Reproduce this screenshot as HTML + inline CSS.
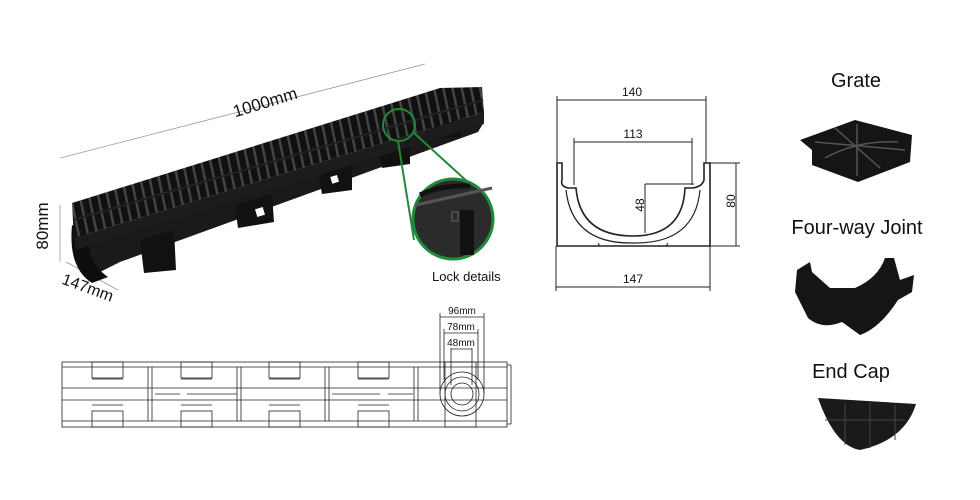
<!DOCTYPE html>
<html><head><meta charset="utf-8"><style>
html,body{margin:0;padding:0;background:#fff;}
svg{display:block;}
text{font-family:"Liberation Sans",sans-serif;}
</style></head><body>
<svg width="980" height="500" viewBox="0 0 980 500" xmlns="http://www.w3.org/2000/svg">
<defs>
<pattern id="slots" patternUnits="userSpaceOnUse" width="9" height="9" patternTransform="rotate(-12)">
<rect width="9" height="9" fill="#111"/><rect x="0" y="0" width="2.5" height="9" fill="#444"/>
</pattern>
</defs>
<line x1="60" y1="158" x2="425" y2="64" stroke="#999" stroke-width="0.8"/>
<text x="265" y="108" font-size="17" fill="#111" transform="rotate(-17 265 102)" text-anchor="middle">1000mm</text>
<line x1="60" y1="205" x2="60" y2="262" stroke="#999" stroke-width="0.8"/>
<text x="52" y="234" font-size="17" fill="#111" transform="rotate(-90 46 232)" text-anchor="middle">80mm</text>
<line x1="66" y1="262" x2="118" y2="290" stroke="#999" stroke-width="0.8"/>
<text x="88" y="293" font-size="16" fill="#111" transform="rotate(20 88 287)" text-anchor="middle">147mm</text>
<!-- channel body -->
<polygon points="76,248 484,122 478,132 120,262 92,276 78,268" fill="#1a1a1a"/>
<path d="M72,225 Q68,268 92,283 L108,277 Q86,262 88,232 Z" fill="#0d0d0d"/>
<!-- feet -->
<polygon points="140,240 174,230 176,270 144,273" fill="#111"/>
<polygon points="235,205 272,194 274,222 238,228" fill="#111"/>
<polygon points="318,172 352,162 352,190 322,194" fill="#111"/>
<polygon points="378,148 410,140 410,164 382,168" fill="#111"/>
<polygon points="430,124 462,115 462,136 432,140" fill="#111"/>
<rect x="256" y="208" width="8" height="8" fill="#fff" transform="rotate(-17 260 212)"/>
<rect x="331" y="176" width="7" height="7" fill="#fff" transform="rotate(-17 334 179)"/>
<!-- grate -->
<polygon points="72,203 440,88 482,87 484,112 74,238" fill="url(#slots)"/>
<line x1="73" y1="220" x2="483" y2="100" stroke="#222" stroke-width="2"/>
<polygon points="74,238 484,112 484,124 76,250" fill="#1c1c1c"/>
<!-- lock details -->
<circle cx="399" cy="125" r="16" fill="none" stroke="#1f8a3a" stroke-width="2"/>
<line x1="398" y1="141" x2="414" y2="240" stroke="#1f8a3a" stroke-width="2"/>
<line x1="414" y1="133" x2="482" y2="195" stroke="#1f8a3a" stroke-width="2"/>
<circle cx="453" cy="219" r="40" fill="#2b2b2b" stroke="#1f8a3a" stroke-width="3"/>
<path d="M416,205 L492,188" stroke="#555" stroke-width="3"/>
<path d="M420,195 Q440,185 470,186" stroke="#111" stroke-width="5" fill="none"/>
<rect x="460" y="210" width="14" height="45" fill="#111"/>
<rect x="452" y="212" width="6" height="9" fill="none" stroke="#666" stroke-width="1"/>
<text x="432" y="281" font-size="13" fill="#111">Lock details</text>
<!-- cross section -->
<g stroke="#222" stroke-width="1" fill="none">
<line x1="557" y1="96" x2="557" y2="163"/><line x1="706" y1="96" x2="706" y2="163"/>
<line x1="557" y1="100" x2="706" y2="100"/>
<line x1="574" y1="138" x2="574" y2="185"/><line x1="692" y1="138" x2="692" y2="185"/>
<line x1="574" y1="142" x2="692" y2="142"/>
<line x1="645" y1="184" x2="694" y2="184"/><line x1="645" y1="184" x2="645" y2="233"/>
<line x1="710" y1="163" x2="740" y2="163"/><line x1="710" y1="246" x2="740" y2="246"/>
<line x1="736" y1="163" x2="736" y2="246"/>
<line x1="556" y1="246" x2="556" y2="291"/><line x1="710" y1="246" x2="710" y2="291"/>
<line x1="556" y1="287" x2="710" y2="287"/>
<path d="M557,163 L557,246 L710,246 L710,163 L704,163 L704,180 Q702,187 692,188 L685,188 Q683,236 633,236 Q580,236 576,188 L568,188 Q560,186 562,180 L562,163 Z" stroke-width="1.6"/>
<path d="M566,190 Q572,244 633,243 Q695,244 700,190" stroke-width="1.2"/>
<path d="M598,243 L600,246 M668,243 L666,246"/>
</g>
<g font-size="12" fill="#111" text-anchor="middle">
<text x="632" y="96">140</text><text x="633" y="138">113</text><text x="633" y="283">147</text>
<text x="640" y="209" transform="rotate(-90 640 205)">48</text>
<text x="731" y="205" transform="rotate(-90 731 201)">80</text>
</g>
<!-- plan view -->
<g stroke="#222" stroke-width="0.8" fill="none">
<rect x="62" y="362" width="445" height="65"/>
<line x1="62" y1="367" x2="507" y2="367"/><line x1="62" y1="388" x2="507" y2="388"/>
<line x1="62" y1="400" x2="507" y2="400"/><line x1="62" y1="421" x2="507" y2="421"/>
<line x1="507" y1="365" x2="511" y2="365"/><line x1="511" y1="365" x2="511" y2="424"/><line x1="507" y1="424" x2="511" y2="424"/>
<g id="bx"><rect x="92" y="362" width="31" height="16"/><line x1="92" y1="379" x2="123" y2="379"/><rect x="92" y="411" width="31" height="16"/><line x1="92" y1="405" x2="123" y2="405"/></g>
<use href="#bx" x="89"/><use href="#bx" x="177"/><use href="#bx" x="266"/>
<g id="sep"><line x1="148" y1="367" x2="148" y2="421"/><line x1="152" y1="367" x2="152" y2="421"/></g>
<use href="#sep" x="89"/><use href="#sep" x="177"/><use href="#sep" x="266"/>
<line x1="155" y1="394" x2="180" y2="394"/><line x1="187" y1="394" x2="237" y2="394"/>
<line x1="332" y1="394" x2="380" y2="394"/><line x1="388" y1="394" x2="413" y2="394"/>
<rect x="445" y="362" width="31" height="65"/>
<circle cx="462" cy="394" r="22"/><circle cx="462" cy="394" r="17"/><circle cx="462" cy="394" r="11"/>
<line x1="440" y1="313" x2="440" y2="394"/><line x1="484" y1="313" x2="484" y2="394"/>
<line x1="440" y1="317" x2="484" y2="317"/>
<line x1="444" y1="329" x2="444" y2="380"/><line x1="478" y1="329" x2="478" y2="380"/>
<line x1="444" y1="333" x2="478" y2="333"/>
<line x1="451" y1="348" x2="451" y2="385"/><line x1="472" y1="348" x2="472" y2="385"/>
<line x1="451" y1="349" x2="472" y2="349"/>
</g>
<g font-size="10" fill="#111" text-anchor="middle">
<text x="462" y="314">96mm</text><text x="461" y="330">78mm</text><text x="461" y="346">48mm</text>
</g>
<!-- accessories -->
<g font-size="20" fill="#111" text-anchor="middle">
<text x="856" y="87">Grate</text><text x="857" y="234">Four-way Joint</text><text x="851" y="378">End Cap</text>
</g>
<polygon points="800,140 855,120 912,135 910,162 858,182 812,165 812,150" fill="#151515"/>
<g stroke="#555" stroke-width="1.5" fill="none"><line x1="815" y1="142" x2="905" y2="150"/><line x1="835" y1="128" x2="880" y2="168"/><line x1="857" y1="124" x2="857" y2="176"/><path d="M825,158 Q858,140 898,142"/></g>
<path d="M797,270 L810,262 L812,272 L830,288 L855,288 Q878,278 885,258 L894,258 L900,280 L914,275 L912,292 L898,300 Q880,328 860,335 L842,322 Q822,330 808,318 L795,292 Z" fill="#151515"/>
<path d="M818,398 L916,404 Q905,440 860,450 Q835,446 818,398 Z" fill="#1a1a1a"/>
<g stroke="#444" stroke-width="1"><line x1="825" y1="420" x2="905" y2="420"/><line x1="845" y1="403" x2="845" y2="445"/><line x1="870" y1="403" x2="870" y2="448"/><line x1="895" y1="405" x2="895" y2="440"/></g>
</svg>
</body></html>
